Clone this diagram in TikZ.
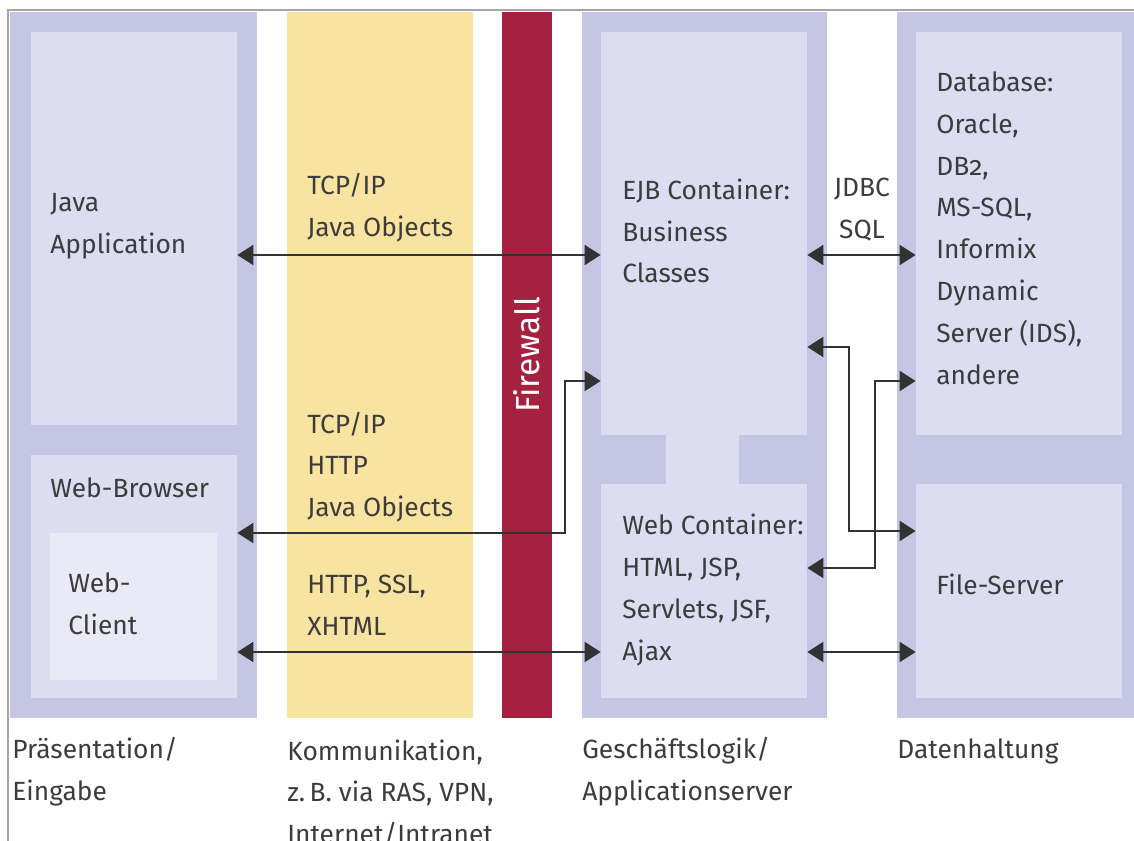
\documentclass[tikz,border=0pt]{standalone}
\usepackage{fontspec}
\setmainfont[Numbers=OldStyle]{Fira Sans}
\usetikzlibrary{arrows.meta,fit}
\definecolor{lila}{RGB}{196,198,228}
\definecolor{lilahell}{RGB}{220,221,240}
\definecolor{lilaweiss}{RGB}{233,234,245}
\definecolor{gelb}{RGB}{248,228,160}
\definecolor{rot}{RGB}{164,34,64}
\definecolor{schrift}{RGB}{60,60,60}
\definecolor{pfeil}{RGB}{50,50,50}

\begin{document}
\begin{tikzpicture}[x=0.02cm,y=-0.02cm,
  font=\fontsize{15}{23.8}\selectfont,
  panel/.style={fill=lilahell,inner sep=0pt,fit={#1}},
  txt/.style={anchor=west,align=left,inner sep=0pt,text=schrift},
  link/.style={draw=pfeil,line width=1.1pt,
    {Triangle[length=0.32cm,width=0.4cm]}-{Triangle[length=0.32cm,width=0.4cm]}}]

\useasboundingbox (0,0) rectangle (1134,841);
\clip (0,0) rectangle (1134,841);

%%% frame and columns %%%
\draw[gray!70,line width=0.8pt] (8,841) -- (8,10) -- (1134,10);

\fill[lila] (10,12) rectangle (257,718);
\fill[gelb] (287,12) rectangle (473,718);
\fill[rot] (502,12) rectangle (552,718);
\fill[lila] (582,12) rectangle (827,718);
\fill[lila] (897,12) rectangle (1134,718);

%%% panels %%%
  \node (java) [panel={(31,32) (237,425)}] {};
  \node (browser) [panel={(31,455) (237,698)}] {};
  \node (client) [fill=lilaweiss,inner sep=0pt,fit={(50,533) (217,680)}] {};
  \node (ejb) [panel={(601,32) (807,435)}] {};
  \node (webc) [panel={(601,484) (807,698)}] {};
  \node (db) [panel={(916,32) (1122,435)}] {};
  \node (files) [panel={(916,484) (1122,698)}] {};
\fill[lilahell] (666,430) rectangle (739,490);

%%% texts %%%
\node (tjava) at (50,226) [txt] {Java\\Application};
\node (tbrowser) at (50,488) [txt] {Web-Browser};
\node (tclient) at (68,604) [txt] {Web-\\Client};
\node (tobj) at (307,208) [txt] {TCP/IP\\Java Objects};
\node (thttp) at (307,467) [txt] {TCP/IP\\HTTP\\Java Objects};
\node (tssl) at (307,605) [txt] {HTTP, SSL,\\XHTML};
\node (tfw) at (527,355) [rotate=90,text=white,inner sep=0pt,font=\fontsize{19}{23}\selectfont] {Firewall};
\node (tejb) at (622,231) [txt] {EJB Container:\\Business\\Classes};
\node (tjdbc) at (862,210) [txt,anchor=center,align=center] {JDBC\\SQL};
\node (tdb) at (936,228) [txt] {Database:\\Oracle,\\DB2,\\MS-SQL,\\Informix\\Dynamic\\Server (IDS),\\andere};
\node (twebc) at (622,590) [txt] {Web Container:\\HTML, JSP,\\Servlets, JSF,\\Ajax};
\node (tfiles) at (936,584) [txt] {File-Server};

\node (lpraes) at (12,772) [txt] {Präsentation/\\Eingabe};
\node (lkomm) at (287,793) [txt] {Kommunikation,\\z.\,B. via RAS, VPN,\\Internet/Intranet};
\node (lgesch) at (582,772) [txt] {Geschäftslogik/\\Applicationserver};
\node (ldaten) at (897,751) [txt] {Datenhaltung};

%%% connectors %%%
\coordinate (r1) at (0,255);
\coordinate (r2) at (0,652);
\coordinate (b1) at (565,533);
\coordinate (b2) at (565,381);
\coordinate (c1) at (849,347);
\coordinate (c2) at (849,531);
\coordinate (d1) at (875,381);
\coordinate (d2) at (875,568);

\draw[link] (java.east |- r1) to (ejb.west |- r1);
\draw[link] (browser.east |- b1) to (b1) to (b2) to (ejb.west |- b2);
\draw[link] (browser.east |- r2) to (webc.west |- r2);

\draw[link] (ejb.east |- r1) to (db.west |- r1);
\draw[link] (ejb.east |- c1) to (c1) to (c2) to (files.west |- c2);
\draw[link] (db.west |- d1) to (d1) to (d2) to (webc.east |- d2);
\draw[link] (webc.east |- r2) to (files.west |- r2);
\end{tikzpicture}
\end{document}
